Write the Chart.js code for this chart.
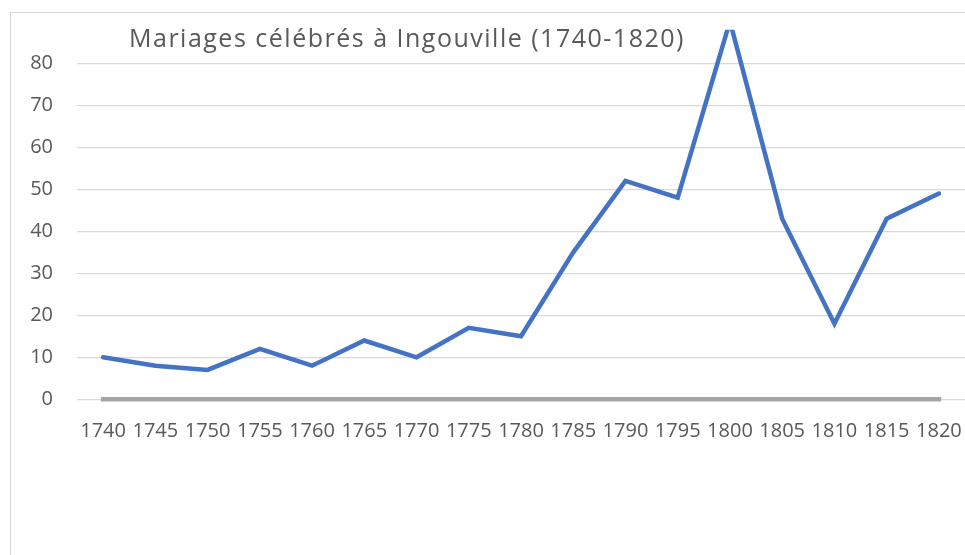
<!DOCTYPE html>
<html>
<head>
<meta charset="utf-8">
<script src="https://cdn.jsdelivr.net/npm/chart.js@4"></script>
<style>
  html, body { margin: 0; padding: 0; background: #fff; }
  #wrap { position: relative; width: 965px; height: 555px; overflow: hidden; }
  #frame {
    position: absolute; left: 10px; top: 12px; width: 1000px; height: 600px;
    border-left: 1.5px solid #d9d9d9; border-top: 1.5px solid #d9d9d9;
  }
  #chart { position: absolute; left: 0; top: 0; }
</style>
</head>
<body>
<div id="wrap">
  <div id="frame"></div>
  <canvas id="chart" width="965" height="555"></canvas>
</div>
<script>
  const years = ["1740", "1745", "1750", "1755", "1760", "1765", "1770", "1775", "1780",
    "1785", "1790", "1795", "1800", "1805", "1810", "1815", "1820"];
  const mariages = [10, 8, 7, 12, 8, 14, 10, 17, 15, 35, 52, 48, 90, 43, 18, 43, 49];
  const baseline = [0, 0, 0, 0, 0, 0, 0, 0, 0, 0, 0, 0, 0, 0, 0, 0, 0];
  const yMax = 88;
  const yStep = 10;
  const chartTitle = "Mariages célébrés à Ingouville (1740-1820)";

  const textColor = "#595959";
  const fontFamily = "'Open Sans'";

  // titre posé dans la zone du graphique, comme dans Excel
  const titlePlugin = {
    id: "freeTitle",
    afterDraw(chart) {
      const ctx = chart.ctx;
      ctx.save();
      ctx.font = "25px " + fontFamily;
      ctx.letterSpacing = "1.5px";
      ctx.fillStyle = textColor;
      ctx.textAlign = "left";
      ctx.textBaseline = "alphabetic";
      ctx.fillText(chartTitle, 129, 47);
      ctx.restore();
    },
  };

  new Chart(document.getElementById("chart").getContext("2d"), {
    type: "line",
    data: {
      labels: years,
      datasets: [
        {
          label: "Mariages",
          data: mariages,
          borderColor: "#4472c4",
          borderWidth: 4.5,
          borderCapStyle: "round",
          pointRadius: 0,
          tension: 0,
          clip: 0,
        },
        {
          label: "Série2",
          data: baseline,
          borderColor: "#a5a5a5",
          borderWidth: 4.5,
          borderCapStyle: "square",
          pointRadius: 0,
          tension: 0,
          clip: false,
        },
      ],
    },
    options: {
      responsive: false,
      animation: false,
      layout: { padding: { top: 29.7, left: 0, right: 0, bottom: 0 } },
      plugins: {
        legend: { display: false },
        tooltip: { enabled: false },
        title: { display: false },
      },
      scales: {
        x: {
          offset: true,
          grid: { display: false, drawTicks: false },
          border: { display: false },
          ticks: {
            color: textColor,
            font: { family: fontFamily, size: 20 },
            autoSkip: false,
            maxRotation: 0,
            minRotation: 0,
            padding: 20,
          },
          afterFit(scale) {
            scale.height = 155.7;
            scale.paddingLeft = 0;
            scale.paddingRight = 0;
          },
        },
        y: {
          min: 0,
          max: yMax,
          grid: { color: "#d9d9d9", lineWidth: 1.3, drawTicks: false },
          border: { display: false },
          ticks: {
            stepSize: yStep,
            color: textColor,
            font: { family: fontFamily, size: 20 },
            padding: 24,
          },
          afterBuildTicks(scale) {
            scale.ticks = scale.ticks.filter((t) => t.value % yStep === 0);
          },
          afterFit(scale) {
            scale.width = 77;
            scale.paddingTop = 0;
            scale.paddingBottom = 0;
          },
        },
      },
    },
    plugins: [titlePlugin],
  });
</script>
</body>
</html>
